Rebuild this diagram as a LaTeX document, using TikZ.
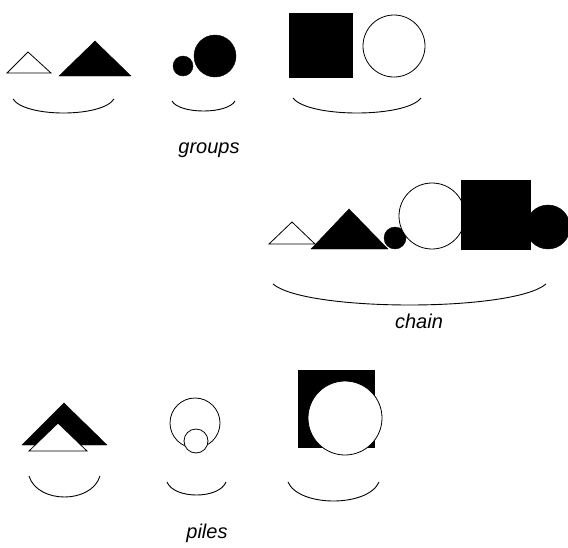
\documentclass[tikz,border=0pt]{standalone}
\usepackage{fontspec}
\setsansfont{Liberation Sans}
% a shallow curved bracket under a group of shapes: {left x}{right x}{top y}{depth}
\newcommand{\undercurve}[4]{%
    \draw[curveline] (#1,#3) .. controls ({#1+0.12*(#2-#1)},{#3+#4*4/3})
        and ({#2-0.12*(#2-#1)},{#3+#4*4/3}) .. (#2,#3);}

\begin{document}
\begin{tikzpicture}[
    % GLOBAL CFG
    x=1pt, y=-1pt,
    % Styles
    openshape/.style={% white shapes with a black outline
        draw,
        fill=white,
        line width=0.8pt,
        },
    fullshape/.style={% black shapes
        draw,
        fill=black,
        line width=0.4pt,
        },
    curveline/.style={% the curves below each group
        line width=0.9pt,
        },
    caption/.style={% group names
        font=\sffamily\itshape\fontsize{20}{24}\selectfont,
        },
    ]
\useasboundingbox (0,0) rectangle (568,547);

% Groups row
    \draw[openshape] (7,73) -- (28,52) -- (51,73) -- cycle;
    \draw[fullshape] (59,76) -- (95,41) -- (131,76) -- cycle;
    \draw[fullshape] (183,66) circle[radius=10pt];
    \draw[fullshape] (215,56) circle[radius=21pt];
    \draw[fullshape] (289,13) rectangle (352,77);
    \draw[openshape] (394,46) circle[radius=31pt];

    \undercurve{13}{114}{99}{14}
    \undercurve{172}{235}{101}{10}
    \undercurve{293}{421}{98}{15}
    \node[caption] (groups) at (209,150) {groups};

% Chain row
    \draw[openshape] (269,244) -- (292,222) -- (315,244) -- cycle;
    \draw[fullshape] (311,249) -- (349,209) -- (388,249) -- cycle;
    \draw[fullshape] (395,238) circle[radius=11pt];
    \draw[openshape] (432,216) circle[radius=33pt];
    \draw[fullshape] (461,180) rectangle (530,249);
    \draw[fullshape] (548,227) circle[radius=22pt];

    \undercurve{273}{546}{284}{21}
    \node[caption] (chain) at (419,321) {chain};

% Piles row
    \draw[fullshape] (22,445) -- (64,403) -- (107,445) -- cycle;
    \draw[openshape] (29,451) -- (58,423) -- (87,451) -- cycle;
    \draw[openshape] (195,423) circle[radius=25pt];
    \draw[openshape] (196,441) circle[radius=12pt];
    \draw[fullshape] (298,370) rectangle (374,447);
    \draw[openshape] (345,418) circle[radius=37pt];

    \undercurve{29}{100}{476}{21}
    \undercurve{167}{226}{482}{13}
    \undercurve{288}{379}{482}{19}
    \node[caption] (piles) at (207,533) {piles};

\end{tikzpicture}
\end{document}
